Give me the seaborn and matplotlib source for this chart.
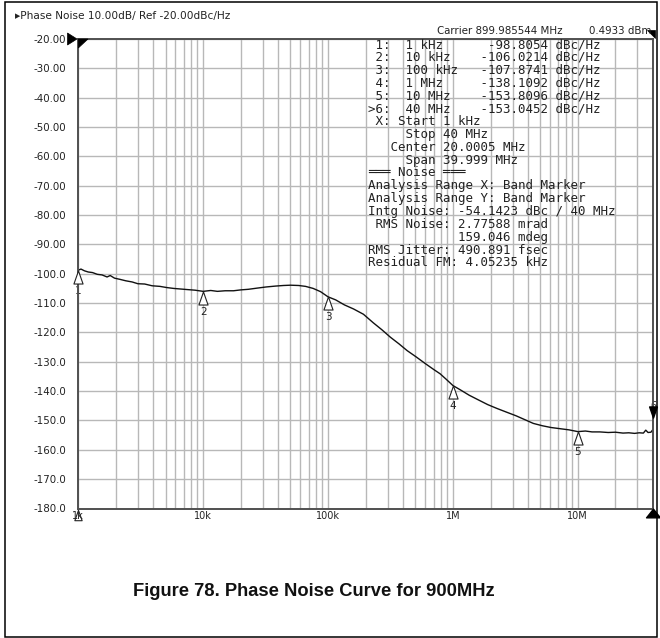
import matplotlib
matplotlib.use("Agg")
import matplotlib.pyplot as plt
import matplotlib.transforms as mtransforms
from matplotlib.path import Path
from matplotlib.patches import Rectangle, Polygon
from matplotlib.ticker import FixedLocator, NullFormatter
import seaborn as sns

# Measured phase-noise trace (offset frequency in Hz, level in dBc/Hz)
freq_hz = [1.00e3, 1.05e3, 1.12e3, 1.20e3, 1.30e3, 1.42e3, 1.55e3, 1.70e3, 1.80e3,
           1.95e3, 2.15e3, 2.40e3, 2.70e3, 3.00e3, 3.40e3, 3.90e3, 4.50e3, 5.10e3,
           5.80e3, 6.60e3, 7.50e3, 8.60e3, 10.0e3, 11.5e3, 13.0e3, 15.0e3, 17.5e3,
           20.0e3, 23.0e3, 27.0e3, 32.0e3, 38.0e3, 44.0e3, 50.0e3, 58.0e3, 66.0e3,
           76.0e3, 87.0e3, 100e3, 115e3, 135e3, 160e3, 192e3, 230e3, 270e3, 315e3,
           370e3, 430e3, 510e3, 600e3, 700e3, 790e3, 880e3, 1.00e6, 1.15e6, 1.35e6,
           1.60e6, 1.90e6, 2.25e6, 2.70e6, 3.20e6, 3.80e6, 4.40e6, 5.20e6, 6.10e6,
           7.20e6, 8.50e6, 10.0e6, 11.5e6, 13.0e6, 15.0e6, 17.5e6, 20.0e6, 23.0e6,
           25.6e6, 28.5e6, 31.0e6, 33.5e6, 35.0e6, 36.5e6, 38.5e6, 40.0e6]
level_dbc = [-98.8, -98.4, -99.0, -99.4, -99.6, -100.2, -100.4, -101.1, -100.6,
             -101.5, -101.9, -102.4, -102.8, -103.4, -103.5, -104.1, -104.3, -104.7,
             -105.0, -105.2, -105.4, -105.6, -106.0, -105.7, -106.0, -105.8, -105.8,
             -105.5, -105.3, -104.9, -104.5, -104.2, -104.0, -103.9, -104.0, -104.3,
             -105.0, -106.1, -107.87, -108.9, -110.6, -112.0, -113.8, -116.7, -119.1,
             -121.6, -123.9, -126.2, -128.4, -130.6, -132.6, -134.1, -135.9, -138.1,
             -139.6, -141.4, -143.0, -144.6, -145.9, -147.2, -148.4, -149.8, -151.0,
             -151.8, -152.4, -152.8, -153.2, -153.8, -153.6, -153.9, -153.9, -154.1,
             -154.0, -154.3, -154.2, -154.4, -154.2, -154.3, -153.3, -154.1, -154.0,
             -153.05]

# Markers
marker_ids = [1, 2, 3, 4, 5, 6]
marker_freq = [1e3, 10e3, 100e3, 1e6, 10e6, 40e6]
marker_level = [-98.8054, -106.0214, -107.8741, -138.1092, -153.8096, -153.0452]

# Axis ticks
x_tick_vals = [1e3, 1e4, 1e5, 1e6, 1e7]
x_tick_text = ["1k", "10k", "100k", "1M", "10M"]
y_tick_vals = list(range(-180, -19, 10))
y_tick_text = ["-180.0", "-170.0", "-160.0", "-150.0", "-140.0", "-130.0", "-120.0",
               "-110.0", "-100.0", "-90.00", "-80.00", "-70.00", "-60.00", "-50.00",
               "-40.00", "-30.00", "-20.00"]

header_text = "\u25b8Phase Noise 10.00dB/ Ref -20.00dBc/Hz"
carrier_text = "Carrier 899.985544 MHz"
power_text = "0.4933 dBm"
readout_rows = [
    " 1:  1 kHz      -98.8054 dBc/Hz",
    " 2:  10 kHz    -106.0214 dBc/Hz",
    " 3:  100 kHz   -107.8741 dBc/Hz",
    " 4:  1 MHz     -138.1092 dBc/Hz",
    " 5:  10 MHz    -153.8096 dBc/Hz",
    ">6:  40 MHz    -153.0452 dBc/Hz",
    " X: Start 1 kHz",
    "     Stop 40 MHz",
    "   Center 20.0005 MHz",
    "     Span 39.999 MHz",
    "\u2550\u2550\u2550 Noise \u2550\u2550\u2550",
    "Analysis Range X: Band Marker",
    "Analysis Range Y: Band Marker",
    "Intg Noise: -54.1423 dBc / 40 MHz",
    " RMS Noise: 2.77588 mrad",
    "            159.046 mdeg",
    "RMS Jitter: 490.891 fsec",
    "Residual FM: 4.05235 kHz",
]
caption_text = "Figure 78. Phase Noise Curve for 900MHz"

sns.set_theme(style="white")
plt.rcParams["font.family"] = ["DejaVu Sans"]

W, H = 660, 638
fig = plt.figure(figsize=(W / 100, H / 100), dpi=100)
fig.patch.set_facecolor("white")


def fx(x):
    return x / W


def fy(y):
    return 1 - y / H


ax_l, ax_r, ax_t, ax_b = 78.3, 653.0, 39.0, 508.5
ax = fig.add_axes([fx(ax_l), fy(ax_b), (ax_r - ax_l) / W, (ax_b - ax_t) / H])
ax.set_facecolor("white")

sns.lineplot(x=freq_hz, y=level_dbc, ax=ax, color="#111111", linewidth=1.0,
             sort=False, estimator=None)

ax.set_xscale("log")
ax.set_xlim(1e3, 4e7)
ax.set_ylim(-180, -20)
ax.set_xlabel("")
ax.set_ylabel("")

ax.set_xticks(x_tick_vals)
ax.set_xticklabels(x_tick_text)
minor = [m * d for d in (1e3, 1e4, 1e5, 1e6, 1e7) for m in range(2, 10) if m * d < 4e7]
ax.xaxis.set_minor_locator(FixedLocator(minor))
ax.xaxis.set_minor_formatter(NullFormatter())
ax.set_yticks(y_tick_vals)
ax.set_yticklabels(y_tick_text)

ax.tick_params(axis="both", which="both", length=0, labelcolor="#222222")
ax.tick_params(axis="y", pad=8.5, labelsize=7.4)
ax.tick_params(axis="x", pad=2, labelsize=7)

ax.grid(True, which="major", axis="both", color="#b8b8b8", linewidth=1.0)
ax.grid(True, which="minor", axis="x", color="#b8b8b8", linewidth=1.0)
ax.set_axisbelow(True)
for sp in ax.spines.values():
    sp.set_visible(True)
    sp.set_color("#505050")
    sp.set_linewidth(1.4)
    sp.set_zorder(4)

# Marker glyphs
tri_up = Path([(0, 1), (-0.7, -1), (0.7, -1), (0, 1)],
              [Path.MOVETO, Path.LINETO, Path.LINETO, Path.CLOSEPOLY])
tri_down = Path([(0, -1), (-0.7, 1), (0.7, 1), (0, -1)],
                [Path.MOVETO, Path.LINETO, Path.LINETO, Path.CLOSEPOLY])
below = mtransforms.offset_copy(ax.transData, fig=fig, x=0, y=-6.5, units="dots")
above = mtransforms.offset_copy(ax.transData, fig=fig, x=0, y=17.5, units="dots")

for mid, mf, ml in zip(marker_ids, marker_freq, marker_level):
    if mid == 6:
        ax.plot([mf], [ml], marker=tri_down, markersize=8, color="black",
                transform=above, clip_on=False, zorder=5)
        ax.annotate(str(mid), (mf, ml), xytext=(0, 23 * 0.72), textcoords="offset points",
                    ha="center", va="center", fontsize=7, color="#222222",
                    annotation_clip=False)
    else:
        ax.plot([mf], [ml], marker=tri_up, markersize=9.4, markerfacecolor="white",
                markeredgecolor="#222222", markeredgewidth=0.8, transform=below,
                clip_on=False, zorder=5)
        ax.annotate(str(mid), (mf, ml), xytext=(0, -20.5 * 0.72), textcoords="offset points",
                    ha="center", va="center", fontsize=7.5, color="#222222",
                    annotation_clip=False, zorder=3 if mid > 1 else 2)

# Start / stop stimulus markers on the frequency axis
start_off = mtransforms.offset_copy(ax.transData, fig=fig, x=0, y=-6, units="dots")
ax.plot([1e3], [-180], marker=tri_up, markersize=7.5, markerfacecolor="none",
        markeredgecolor="#222222", markeredgewidth=0.8, transform=start_off,
        clip_on=False, zorder=6)
stop_path = Path([(0, 1), (-1.6, -1), (1.6, -1), (0, 1)],
                 [Path.MOVETO, Path.LINETO, Path.LINETO, Path.CLOSEPOLY])
stop_off = mtransforms.offset_copy(ax.transData, fig=fig, x=0, y=-4.5, units="dots")
ax.plot([4e7], [-180], marker=stop_path, markersize=10, color="black",
        transform=stop_off, clip_on=False, zorder=6)

# Reference level arrow and corner flags
for pts in ([(67.5, 33.0), (77.0, 39.0), (67.5, 45.0)],
            [(ax_l, ax_t), (88.0, ax_t), (ax_l, 48.0)],
            [(646.5, 29.5), (655.0, 29.5), (655.0, 37.5)]):
    fig.patches.append(Polygon([(fx(x), fy(y)) for x, y in pts], closed=True,
                               transform=fig.transFigure, facecolor="black",
                               edgecolor="black", linewidth=0.5))

# Header and readout text
fig.text(fx(15), fy(16), header_text, fontsize=7.6, ha="left", va="center", color="#222222")
fig.text(fx(437), fy(31.5), carrier_text, fontsize=7.4, ha="left", va="center",
         color="#222222")
fig.text(fx(589), fy(31.5), power_text, fontsize=7.4, ha="left", va="center",
         color="#222222")
for i, row in enumerate(readout_rows):
    fig.text(fx(368), fy(44.5 + 12.85 * i), row, fontsize=9, ha="left", va="center",
             family="DejaVu Sans Mono", color="#222222")

fig.text(fx(314), fy(592), caption_text, fontsize=13.2, fontweight="bold",
         ha="center", va="center", family="Liberation Sans", color="#111111")

fig.patches.append(Rectangle((fx(5), fy(636.5)), (657 - 5) / W, (636.5 - 1.5) / H,
                             transform=fig.transFigure, fill=False,
                             edgecolor="black", linewidth=1.1))

fig.savefig("out.png", dpi=100)
